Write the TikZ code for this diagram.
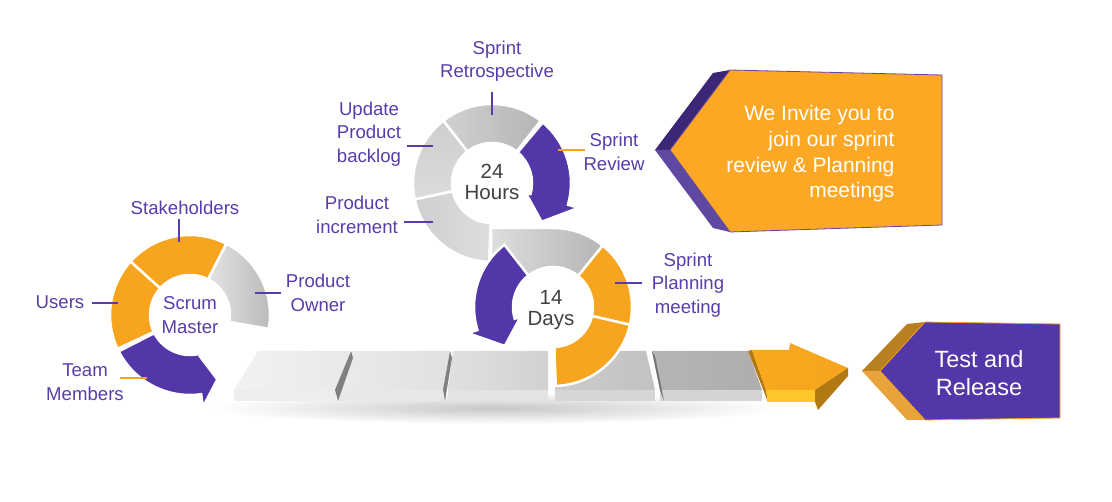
\documentclass[tikz,border=0pt]{standalone}
\usepackage{fontspec}
\setmainfont{Liberation Sans}
\usetikzlibrary{calc}
\definecolor{scrumorange}{RGB}{247,164,30}
\definecolor{scrumpurple}{RGB}{83,54,167}
\definecolor{labelpurple}{RGB}{88,60,170}
\definecolor{hourgray}{RGB}{64,64,64}
\definecolor{boxorange}{RGB}{253,168,36}
\definecolor{bevelpurpleA}{RGB}{60,38,118}
\definecolor{bevelpurpleB}{RGB}{95,72,162}
\definecolor{bevelorangeA}{RGB}{184,128,30}
\definecolor{bevelorangeB}{RGB}{232,163,58}
\definecolor{arrowyellow}{RGB}{255,198,41}
\definecolor{arrowbrown}{RGB}{178,120,18}
\newcommand{\ringpart}[6]{\path[#1] ($(#2)+(#3:#6)$) arc[start angle=#3,end angle=#4,radius=#6] -- ($(#2)+(#4:#5)$) arc[start angle=#4,end angle=#3,radius=#5] -- cycle;}

\begin{document}
\begin{tikzpicture}[x=1pt,y=1pt,
        seg/.style={draw=white,line width=2.5pt},
        lbl/.style={text=labelpurple,font=\fontsize{18.6}{23.5}\selectfont,align=center},
        mid/.style={text=hourgray,font=\fontsize{20.5}{20.5}\selectfont,align=center},
        tick/.style={labelpurple,line width=2.4pt},
        otick/.style={scrumorange,line width=2.4pt}]
        \useasboundingbox (0,0) rectangle (1112,-502);
        \coordinate (scrum) at (190,-315);
        \coordinate (hours) at (492,-183);
        \coordinate (days) at (553,-307);
        \shade[inner color=black!22,outer color=white] (495,-408) ellipse [x radius=285,y radius=16];
        \foreach \tl/\tr/\bl/\br/\ca/\cb/\cf in {258/350/234/336/5/9/7,352/450/337/443/8/12/9,453/548/448/548/12/18/11,555/646/555/655/20/24/16,652/748/660/762/29/32/17}{
            \path[left color=black!\ca,right color=black!\cb] (\tl,-351) -- (\tr,-351) -- (\br,-390) -- (\bl,-390) -- cycle;
            \fill[black!\cf] (\bl,-390) -- (\br,-390) -- (\br,-401) -- (\bl,-401) -- cycle;
        }
        \fill[black!50] (351,-351) -- (353,-358) -- (338,-401) -- (335,-390) -- cycle;
        \fill[black!50] (450,-351) -- (452,-358) -- (445,-401) -- (443,-390) -- cycle;
        \fill[black!55] (652,-351) -- (655,-356) -- (664,-401) -- (660,-390) -- cycle;
        \ringpart{seg,fill=scrumorange}{scrum}{138}{205}{40}{80}
        \ringpart{seg,fill=scrumorange}{scrum}{63}{138}{40}{80}
        \ringpart{seg,left color=black!11,right color=black!28}{scrum}{-10}{63}{40}{80}
        \path[seg,fill=scrumpurple] ($(scrum)+(207:80)$) arc[start angle=207,end angle=278,radius=80] -- ($(scrum)+(278:93)$) -- ($(scrum)+(293:70)$) -- ($(scrum)+(278:35)$) -- ($(scrum)+(278:40)$) arc[start angle=278,end angle=207,radius=40] -- cycle;
        \ringpart{seg,left color=black!18,right color=black!29}{hours}{52}{128}{40}{79}
        \ringpart{seg,top color=black!19,bottom color=black!14}{hours}{128}{192}{40}{79}
        \ringpart{seg,left color=black!19,right color=black!13}{hours}{192}{268}{40}{79}
        \path[seg,fill=scrumpurple] ($(hours)+(50:79)$) arc[start angle=50,end angle=-16,radius=79] -- ($(hours)+(-16:90)$) -- ($(hours)+(-38:63)$) -- ($(hours)+(-16:35)$) -- ($(hours)+(-16:40)$) arc[start angle=-16,end angle=50,radius=40] -- cycle;
        \path[seg,left color=black!13,right color=black!29] (491,-228) -- ($(days)+(90:79)$) arc[start angle=90,end angle=51,radius=79] -- ($(days)+(51:40)$) arc[start angle=51,end angle=128,radius=40] -- (491,-268) -- cycle;
        \ringpart{seg,fill=scrumorange}{days}{-13}{51}{40}{79}
        \ringpart{seg,fill=scrumorange}{days}{-88}{-13}{40}{79}
        \path[seg,fill=scrumpurple] ($(days)+(128:79)$) arc[start angle=128,end angle=197,radius=79] -- ($(days)+(197:89)$) -- ($(days)+(219:62)$) -- ($(days)+(197:34)$) -- ($(days)+(197:40)$) arc[start angle=197,end angle=128,radius=40] -- cycle;
        \fill[arrowbrown] (748,-351) -- (752,-350) -- (766,-390) -- (768,-402) -- cycle;
        \path[left color=scrumorange!95!yellow,right color=scrumorange] (752,-350) -- (789,-350) -- (790,-343) -- (848,-368) -- (815,-390) -- (766,-390) -- cycle;
        \fill[arrowyellow] (766,-390) -- (815,-390) -- (815,-402) -- (768,-402) -- cycle;
        \fill[arrowbrown] (815,-390) -- (848,-368) -- (848,-376) -- (818,-410) -- (815,-402) -- cycle;
        \fill[bevelpurpleA] (655,-150) -- (713,-73) -- (730,-70) -- (670,-150) -- cycle;
        \fill[bevelpurpleB] (655,-150) -- (670,-150) -- (730,-232) -- (713,-228) -- cycle;
        \path[fill=boxorange,draw=bevelpurpleB,line width=0.8pt] (730,-70) -- (942,-75) -- (942,-225) -- (730,-232) -- (670,-150) -- cycle;
        \fill[bevelorangeA] (862,-371) -- (907,-324) -- (925,-322) -- (880,-371) -- cycle;
        \fill[bevelorangeB] (862,-371) -- (880,-371) -- (925,-420) -- (907,-420) -- cycle;
        \path[fill=scrumpurple,draw=scrumorange,line width=0.8pt] (925,-322) -- (1060,-324) -- (1060,-418) -- (925,-420) -- (880,-371) -- cycle;
        \node[text=white,font=\fontsize{21}{25.7}\selectfont,align=right,anchor=east] (invite) at (898,-154) {We Invite you to\\join our sprint\\review \& Planning\\meetings};
        \node[text=white,font=\fontsize{23.5}{28.5}\selectfont,align=center] (release) at (979,-373) {Test and\\Release};
        \node[lbl] (master) at (190,-315) {Scrum\\Master};
        \node[mid] (hourtext) at (492,-182) {24\\Hours};
        \node[mid] (daytext) at (551,-310) {14\\Days};
        \node[lbl] (stake) at (185,-208) {Stakeholders};
        \node[lbl] (users) at (60,-302) {Users};
        \node[lbl] (owner) at (318,-293) {Product\\Owner};
        \node[lbl] (team) at (85,-382) {Team\\Members};
        \node[lbl] (retro) at (497,-61) {Sprint\\Retrospective};
        \node[lbl] (backlog) at (369,-134) {Update\\Product\\backlog};
        \node[lbl] (increment) at (357,-215) {Product\\increment};
        \node[lbl] (review) at (614,-152) {Sprint\\Review};
        \node[lbl] (planning) at (688,-285) {Sprint\\Planning\\meeting};
        \foreach \n/\xa/\ya/\xb/\yb/\st in {stakeA/179/219/179/242/tick,usersA/92/303/118/303/tick,ownerA/255/293/281/293/tick,teamA/120/378/147/378/otick,retroA/492/92/492/115/tick,backlogA/407/146/433/146/tick,incrementA/404/222/433/222/tick,reviewA/558/150/585/150/otick,planningA/615/283/642/283/tick}{
            \coordinate (\n1) at (\xa,-\ya);
            \coordinate (\n2) at (\xb,-\yb);
            \draw[\st] (\n1) -- (\n2);
        }
    \end{tikzpicture}
\end{document}
